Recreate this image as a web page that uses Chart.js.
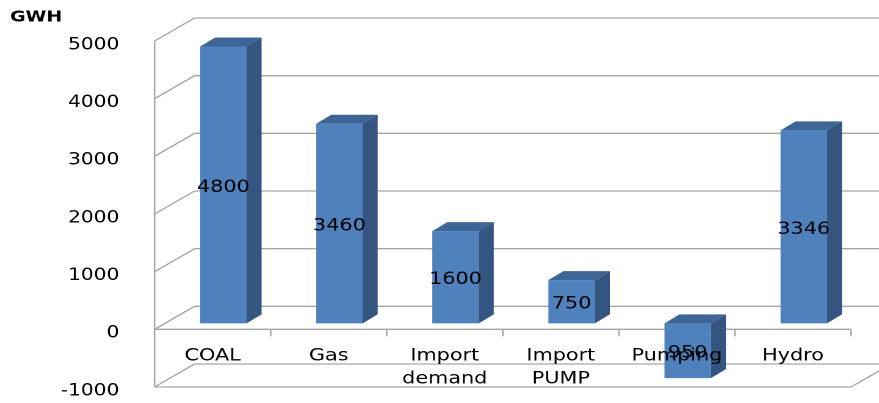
<!DOCTYPE html>
<html>
<head>
<meta charset="utf-8">
<title>GWH</title>
<script src="https://cdn.jsdelivr.net/npm/chart.js@4.4.1/dist/chart.umd.min.js"></script>
<style>
    html, body { margin: 0; padding: 0; background: #fff; overflow: hidden; }
    /* the source picture is stretched sideways, so draw narrow and widen it */
    #wrap { width: 720px; height: 403px; transform: scaleX(1.220833); transform-origin: 0 0; }
</style>
</head>
<body>
<div id="wrap"><canvas id="chart"></canvas></div>
<script>
const categories = ['COAL', 'Gas', ['Import', 'demand'], ['Import', 'PUMP'], 'Pumping', 'Hydro'];
const generation = [4800, 3460, 1600, 750, -950, 3346];
const yMin = -1000;
const yMax = 5000;
const yStep = 1000;

const FRONT = { dx: -8.8, dy: 6 };   // front plane vs bar plane
const BACK = { dx: 24, dy: -17 };    // back wall vs bar plane
const DEPTH = { dx: 12.3, dy: -9 };  // bar side / top
const GRID = '#a6a6a6';
const SIDE = '#34557f';
const TOP = '#3d6697';

Chart.defaults.font.family = '"DejaVu Sans", Verdana, sans-serif';

const walls = {
    id: 'walls',
    beforeDatasetsDraw(chart) {
        const { ctx, scales: { x, y } } = chart;
        const fx0 = x.left + FRONT.dx, fx1 = x.right + FRONT.dx;
        const bx0 = x.left + BACK.dx, bx1 = x.right + BACK.dx;
        const yf = v => y.getPixelForValue(v) + FRONT.dy;
        const yb = v => y.getPixelForValue(v) + BACK.dy;

        ctx.save();
        ctx.strokeStyle = GRID;
        ctx.lineWidth = 1.3;
        ctx.beginPath();
        y.ticks.forEach(t => {
            ctx.moveTo(fx0, yf(t.value));
            ctx.lineTo(bx0, yb(t.value));
            ctx.lineTo(bx1, yb(t.value));
        });
        ctx.moveTo(fx0, yf(yMax));
        ctx.lineTo(fx0, yf(yMin));
        ctx.moveTo(fx0, yf(yMin));
        ctx.lineTo(fx1, yf(yMin));
        ctx.lineTo(bx1, yb(yMin));
        ctx.moveTo(fx0, yf(0));
        ctx.lineTo(fx1, yf(0));
        const w = (x.right - x.left) / categories.length;
        for (let i = 0; i <= categories.length; i++) {
            ctx.moveTo(fx0 + i * w, yf(0));
            ctx.lineTo(fx0 + i * w, yf(0) + 7);
        }
        ctx.stroke();
        ctx.restore();
    },
    afterDatasetsDraw(chart) {
        const { ctx } = chart;
        const meta = chart.getDatasetMeta(0);
        ctx.save();
        meta.data.forEach((bar, i) => {
            const p = bar.getProps(['x', 'y', 'base', 'width'], true);
            const l = p.x - p.width / 2, r = p.x + p.width / 2;
            const top = Math.min(p.y, p.base), bot = Math.max(p.y, p.base);

            ctx.fillStyle = SIDE;
            ctx.beginPath();
            ctx.moveTo(r, top);
            ctx.lineTo(r + DEPTH.dx, top + DEPTH.dy);
            ctx.lineTo(r + DEPTH.dx, bot + DEPTH.dy);
            ctx.lineTo(r, bot);
            ctx.closePath();
            ctx.fill();

            ctx.fillStyle = TOP;
            ctx.beginPath();
            ctx.moveTo(l, top);
            ctx.lineTo(r, top);
            ctx.lineTo(r + DEPTH.dx, top + DEPTH.dy);
            ctx.lineTo(l + DEPTH.dx, top + DEPTH.dy);
            ctx.closePath();
            ctx.fill();

            ctx.fillStyle = '#000';
            ctx.font = '17px "DejaVu Sans", Verdana, sans-serif';
            ctx.textAlign = 'center';
            ctx.textBaseline = 'middle';
            ctx.fillText(String(Math.abs(generation[i])), p.x, (top + bot) / 2 + 2.5);
        });
        ctx.restore();
    }
};

new Chart(document.getElementById('chart'), {
    type: 'bar',
    data: {
        labels: categories,
        datasets: [{
            data: generation,
            backgroundColor: '#4f81bd',
            barPercentage: 0.4,
            categoryPercentage: 1
        }]
    },
    options: {
        responsive: true,
        maintainAspectRatio: false,
        animation: false,
        devicePixelRatio: 2,
        layout: { padding: { left: 8.2, right: 14.1, top: 0, bottom: 0 } },
        plugins: {
            legend: { display: false },
            tooltip: { enabled: false },
            title: {
                display: true,
                text: 'GWH',
                align: 'start',
                color: '#000',
                font: { size: 15.5, weight: 'bold', lineHeight: 1.2 },
                padding: { top: 8, bottom: 8.4 }
            }
        },
        scales: {
            x: {
                grid: { display: false },
                border: { display: false },
                ticks: {
                    z: 1,
                    color: '#000',
                    font: { size: 17, lineHeight: 1.35 },
                    mirror: true,
                    padding: 13.5,
                    labelOffset: FRONT.dx,
                    maxRotation: 0,
                    autoSkip: false
                },
                afterFit: s => { s.height = 22; s.paddingLeft = 0; s.paddingRight = 0; }
            },
            y: {
                min: yMin,
                max: yMax,
                grid: { display: false },
                border: { display: false },
                ticks: {
                    stepSize: yStep,
                    color: '#000',
                    font: { size: 16.5 },
                    padding: 29.7,
                    labelOffset: 10,
                    callback: v => v
                },
                afterFit: s => { s.width = 127.2; s.paddingTop = 0; s.paddingBottom = 0; }
            }
        }
    },
    plugins: [walls]
});
</script>
</body>
</html>
